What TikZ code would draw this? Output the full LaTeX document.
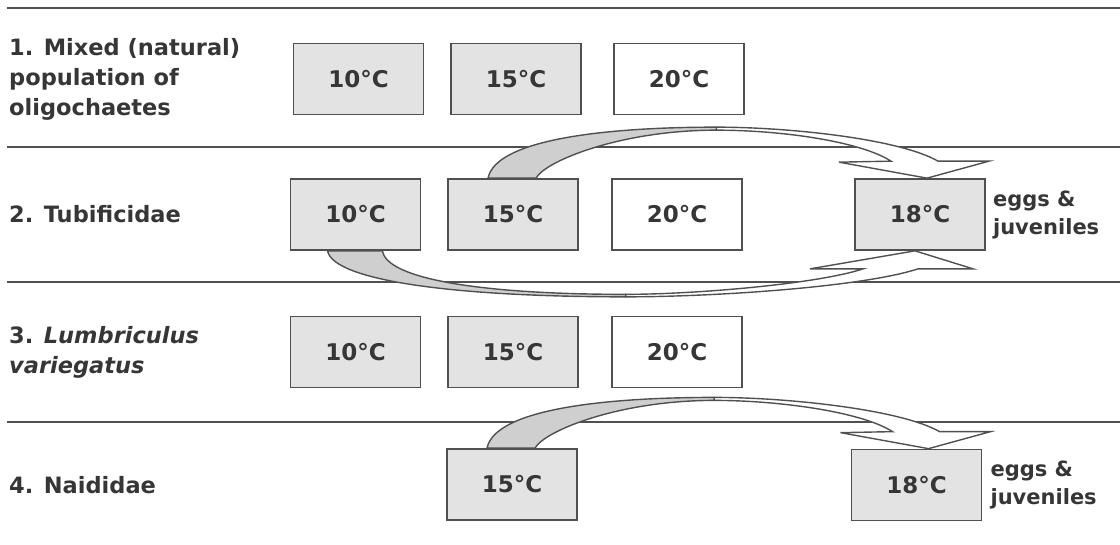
\documentclass[tikz,border=0pt]{standalone}
\usepackage{fontspec}
\setmainfont{DejaVu Sans}
\usetikzlibrary{calc}
\pgfdeclarelayer{back}
\pgfsetlayers{back,main}

\definecolor{ink}{HTML}{363636}
\definecolor{rulegray}{HTML}{505050}
\definecolor{boxgray}{HTML}{E3E3E3}
\definecolor{ribbongray}{HTML}{CFCFCF}

\tikzset{
  tbox/.style={draw=rulegray, line width=1.7pt, minimum width=130pt, minimum height=71pt,
    inner sep=0pt, text=ink, font=\fontsize{23}{27}\selectfont\bfseries},
  coolbox/.style={tbox, fill=boxgray},
  warmbox/.style={tbox, fill=white},
  rowlabel/.style={anchor=west, align=left, inner sep=0pt, text=ink,
    font=\fontsize{22.5}{30}\selectfont\bfseries},
  note/.style={anchor=west, align=left, inner sep=0pt, text=ink,
    font=\fontsize{21}{28}\selectfont\bfseries},
  divider/.style={draw=rulegray, line width=1.6pt},
  underside/.style={fill=ribbongray, draw=rulegray, line width=1.4pt, line join=round},
  topside/.style={fill=white, draw=rulegray, line width=1.4pt, line join=miter},
}

% ribbon arrow arching over: #1 source box, #2 target box, #3 tip shift
\newcommand\archover[3]{%
  \coordinate (bl) at ($(#1.north)+(-25,0)$);
  \coordinate (br) at ($(#1.north)+(23,0)$);
  \coordinate (pk) at ($($(#1.north)!0.5!(#2.north)$)+(0,-51)$);
  \coordinate (qk) at ($(pk)+(0,3)$);
  \coordinate (tip) at ($(#2.north)+(#3,0)$);
  \coordinate (lb) at ($(tip)+(-88,-16)$);
  \coordinate (ln) at ($(tip)+(-36,-17)$);
  \coordinate (rn) at ($(tip)+(11,-17)$);
  \coordinate (rb) at ($(tip)+(62,-17)$);
  \draw[underside] (bl) .. controls +(8,-39) and +(-110,0) .. (pk) -- (qk)
    .. controls +(-96,0) and +(9,-17) .. (br) -- cycle;
  \draw[topside] (pk) .. controls +(74,0) and +(-38,-22) .. (rn) -- (rb) -- (tip)
    -- (lb) -- (ln) .. controls +(-31,-20) and +(64,0) .. (qk) -- cycle;
}

% ribbon arrow sweeping underneath: #1 source box, #2 target box, #3 tip shift
\newcommand\archunder[3]{%
  \coordinate (bl) at ($(#1.south)+(-28,0)$);
  \coordinate (br) at ($(#1.south)+(27,0)$);
  \coordinate (pk) at ($($(#1.south)!0.5!(#2.south)$)+(-12,46)$);
  \coordinate (qk) at ($(pk)+(0,-2.5)$);
  \coordinate (tip) at ($(#2.south)+(#3,0)$);
  \coordinate (lb) at ($(tip)+(-105,18)$);
  \coordinate (ln) at ($(tip)+(-52,18)$);
  \coordinate (rn) at ($(tip)+(3,18)$);
  \coordinate (rb) at ($(tip)+(58,18)$);
  \draw[underside] (bl) .. controls +(6,30) and +(-170,0) .. (pk) -- (qk)
    .. controls +(-145,0) and +(4,28) .. (br) -- cycle;
  \draw[topside] (pk) .. controls +(90,0) and +(-55,18) .. (rn) -- (rb) -- (tip)
    -- (lb) -- (ln) .. controls +(-45,15) and +(70,0) .. (qk) -- cycle;
}

\begin{document}
\begin{tikzpicture}[x=1pt,y=-1pt]
\useasboundingbox (0,0) rectangle (1120,545);

% row labels
\node[rowlabel] (lab1) at (9,79) {1. Mixed (natural)\\population of\\oligochaetes};
\node[rowlabel] (lab2) at (9,214.5) {2. Tubificidae};
\node[rowlabel] (lab3) at (9,352) {3. \textit{Lumbriculus}\\\textit{variegatus}};
\node[rowlabel] (lab4) at (9,485) {4. Naididae};

% row 1
\node[coolbox] (b1-10) at (358.5,79) {10°C};
\node[coolbox] (b1-15) at (516,79) {15°C};
\node[warmbox] (b1-20) at (679,79) {20°C};

% row 2
\node[coolbox] (b2-10) at (355.5,214.5) {10°C};
\node[coolbox] (b2-15) at (513,214.5) {15°C};
\node[warmbox] (b2-20) at (677,214.5) {20°C};
\node[coolbox] (b2-18) at (920,214.5) {18°C};
\node[note] (n2) at ($(b2-18.east)+(7,0)$) {eggs \&\\juveniles};

% row 3
\node[coolbox] (b3-10) at (355.5,352) {10°C};
\node[coolbox] (b3-15) at (513,352) {15°C};
\node[warmbox] (b3-20) at (677,352) {20°C};

% row 4
\node[coolbox] (b4-15) at (512,484.5) {15°C};
\node[coolbox] (b4-18) at (916.5,485) {18°C};
\node[note] (n4) at ($(b4-18.east)+(8,0)$) {eggs \&\\juveniles};

\begin{pgfonlayer}{back}
  % row dividers
  \coordinate (d0a) at (7,8);   \coordinate (d0b) at (1120,8);
  \coordinate (d1a) at (7,147); \coordinate (d1b) at (1120,147);
  \coordinate (d2a) at (7,282); \coordinate (d2b) at (1120,282);
  \coordinate (d3a) at (7,422); \coordinate (d3b) at (1120,422);
  \draw[divider] (d0a) -- (d0b);
  \draw[divider] (d1a) -- (d1b);
  \draw[divider] (d2a) -- (d2b);
  \draw[divider] (d3a) -- (d3b);

  % transfer arrows
  \archover{b2-15}{b2-18}{7}
  \archunder{b2-10}{b2-18}{-5}
  \archover{b4-15}{b4-18}{12}
\end{pgfonlayer}
\end{tikzpicture}
\end{document}
